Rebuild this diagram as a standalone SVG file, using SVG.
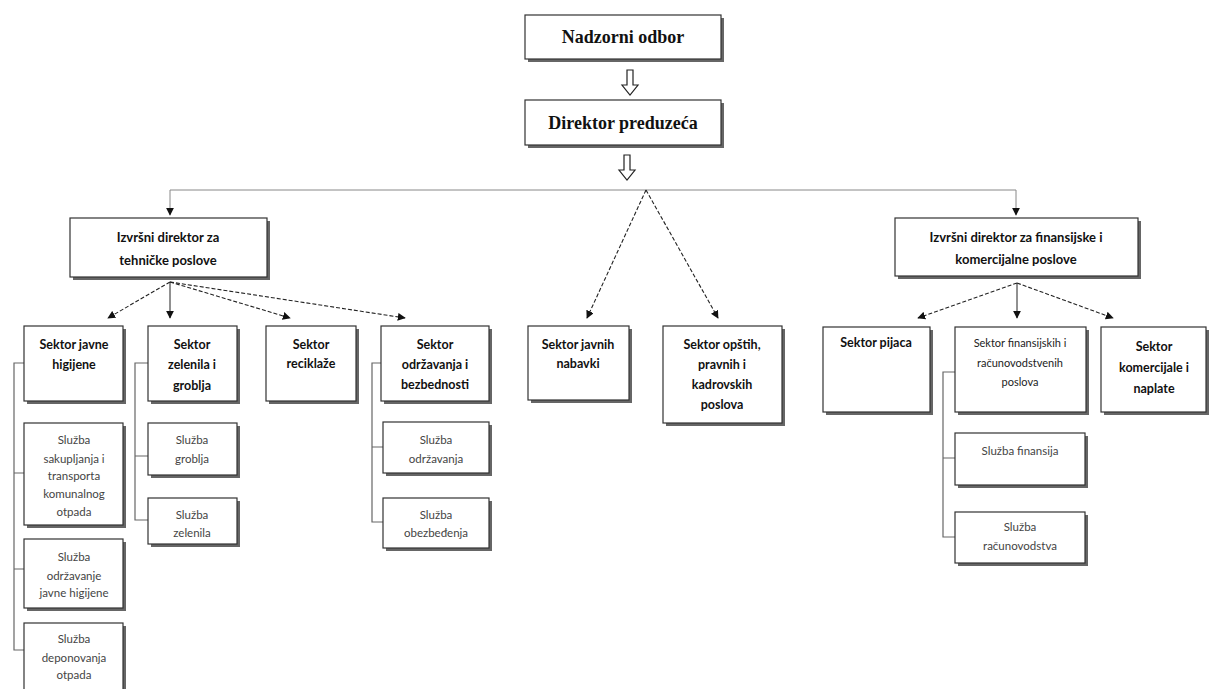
<svg xmlns="http://www.w3.org/2000/svg" width="1213" height="689" viewBox="0 0 1213 689">
<style>
.bx{fill:#fff;stroke:#333;stroke-width:1.2}
.sh{fill:#666}
.tt{font-family:"Liberation Serif",serif;font-weight:bold;font-size:18px;fill:#111;text-anchor:middle}
.hd{font-family:Lato,"Open Sans",sans-serif;font-weight:bold;font-size:13px;fill:#111;text-anchor:middle}
.sk{font-family:Lato,"Open Sans",sans-serif;font-weight:bold;font-size:12.5px;fill:#111;text-anchor:middle}
.sm{font-family:Lato,"Open Sans",sans-serif;font-size:11px;fill:#222;text-anchor:middle}
.sv{font-family:Lato,"Open Sans",sans-serif;font-size:11.5px;fill:#444;text-anchor:middle}
.ln{fill:none;stroke:#222;stroke-width:1}
.ds{fill:none;stroke:#222;stroke-width:1.1;stroke-dasharray:4 2}
.gr{fill:none;stroke:#888;stroke-width:1}
.br{fill:none;stroke:#666;stroke-width:1.2}
.ha{fill:#fff;stroke:#222;stroke-width:1.2}
</style>
<defs>
<marker id="ah" viewBox="0 0 10 10" refX="9" refY="5" markerWidth="8" markerHeight="8" markerUnits="userSpaceOnUse" orient="auto">
<path d="M0,0 L10,5 L0,10 Z" fill="#111"/>
</marker>
</defs>
<rect width="1213" height="689" fill="#fff"/>

<g id="connectors">
<path class="ha" d="M627,70 H633 V85 H638 L630,95 L622,85 H627 Z"/>
<path class="ha" d="M624,155 H630 V170 H635 L627,180 L619,170 H624 Z"/>
<path class="gr" d="M646,190 H170 V215" marker-end="url(#ah)"/>
<path class="gr" d="M646,190 H1016 V215" marker-end="url(#ah)"/>
<path class="ds" d="M646,190 L587,318" marker-end="url(#ah)"/>
<path class="ds" d="M646,190 L718,318" marker-end="url(#ah)"/>
<path class="ds" d="M170,282 L108,318" marker-end="url(#ah)"/>
<path class="ln" d="M170,282 L170,318" marker-end="url(#ah)"/>
<path class="ds" d="M170,282 L290,318" marker-end="url(#ah)"/>
<path class="ds" d="M170,282 L405,318" marker-end="url(#ah)"/>
<path class="ds" d="M1017,283 L918,318" marker-end="url(#ah)"/>
<path class="ln" d="M1017,283 L1017,318" marker-end="url(#ah)"/>
<path class="ds" d="M1017,283 L1113,318" marker-end="url(#ah)"/>
<path class="br" d="M24,363 H14 V650 H24 M14,473 H24 M14,569 H24"/>
<path class="br" d="M148,363 H135 V520 H148 M135,456 H148"/>
<path class="br" d="M383,363 H372 V522 H383 M372,447 H383"/>
<path class="br" d="M955,372 H943 V537 H955 M943,458 H955"/>
</g>

<g id="nadzorni-odbor">
<rect class="sh" x="528" y="18" width="196" height="44"/>
<rect class="bx" x="525" y="15" width="196" height="44"/>
<text class="tt" x="623" y="43">Nadzorni odbor</text>
</g>
<g id="direktor-preduzeca">
<rect class="sh" x="528" y="103" width="196" height="45"/>
<rect class="bx" x="525" y="100" width="196" height="45"/>
<text class="tt" x="623" y="129">Direktor preduzeća</text>
</g>
<g id="izvrsni-tehnicki">
<rect class="sh" x="73" y="221" width="197" height="59"/>
<rect class="bx" x="70" y="218" width="197" height="59"/>
<text class="hd" x="168" y="242">Izvršni direktor za</text>
<text class="hd" x="168" y="265">tehničke poslove</text>
</g>
<g id="izvrsni-finansijski">
<rect class="sh" x="898" y="221" width="243" height="58"/>
<rect class="bx" x="895" y="218" width="243" height="58"/>
<text class="hd" x="1016" y="242">Izvršni direktor za finansijske i</text>
<text class="hd" x="1016" y="264">komercijalne poslove</text>
</g>

<g id="sektor-javne-higijene">
<rect class="sh" x="27" y="329" width="99" height="75"/>
<rect class="bx" x="24" y="326" width="99" height="75"/>
<text class="sk" x="74" y="349">Sektor javne</text>
<text class="sk" x="74" y="369">higijene</text>
</g>
<g id="sektor-zelenila">
<rect class="sh" x="151" y="329" width="89" height="75"/>
<rect class="bx" x="148" y="326" width="89" height="75"/>
<text class="sk" x="192" y="349">Sektor</text>
<text class="sk" x="192" y="369">zelenila i</text>
<text class="sk" x="192" y="390">groblja</text>
</g>
<g id="sektor-reciklaze">
<rect class="sh" x="269" y="329" width="90" height="75"/>
<rect class="bx" x="266" y="326" width="90" height="75"/>
<text class="sk" x="311" y="349">Sektor</text>
<text class="sk" x="311" y="368">reciklaže</text>
</g>
<g id="sektor-odrzavanja">
<rect class="sh" x="384" y="329" width="108" height="75"/>
<rect class="bx" x="381" y="326" width="108" height="75"/>
<text class="sk" x="435" y="349">Sektor</text>
<text class="sk" x="435" y="369">održavanja i</text>
<text class="sk" x="435" y="389">bezbednosti</text>
</g>
<g id="sektor-javnih-nabavki">
<rect class="sh" x="531" y="329" width="101" height="74"/>
<rect class="bx" x="528" y="326" width="101" height="74"/>
<text class="sk" x="578" y="349">Sektor javnih</text>
<text class="sk" x="578" y="368">nabavki</text>
</g>
<g id="sektor-opstih">
<rect class="sh" x="666" y="329" width="119" height="97"/>
<rect class="bx" x="663" y="326" width="119" height="97"/>
<text class="sk" x="722" y="349">Sektor opštih,</text>
<text class="sk" x="722" y="369">pravnih i</text>
<text class="sk" x="722" y="389">kadrovskih</text>
<text class="sk" x="722" y="409">poslova</text>
</g>
<g id="sektor-pijaca">
<rect class="sh" x="826" y="330" width="107" height="85"/>
<rect class="bx" x="823" y="327" width="107" height="85"/>
<text class="sk" x="876" y="347">Sektor pijaca</text>
</g>
<g id="sektor-finansijskih">
<rect class="sh" x="958" y="330" width="131" height="85"/>
<rect class="bx" x="955" y="327" width="131" height="85"/>
<text class="sm" x="1020" y="347">Sektor finansijskih i</text>
<text class="sm" x="1020" y="367">računovodstvenih</text>
<text class="sm" x="1020" y="386">poslova</text>
</g>
<g id="sektor-komercijale">
<rect class="sh" x="1104" y="330" width="105" height="85"/>
<rect class="bx" x="1101" y="327" width="105" height="85"/>
<text class="sk" x="1154" y="351">Sektor</text>
<text class="sk" x="1154" y="372">komercijale i</text>
<text class="sk" x="1154" y="393">naplate</text>
</g>

<g id="sluzba-sakupljanja">
<rect class="sh" x="27" y="426" width="99" height="102"/>
<rect class="bx" x="24" y="423" width="99" height="102"/>
<text class="sv" x="74" y="444">Služba</text>
<text class="sv" x="74" y="463">sakupljanja i</text>
<text class="sv" x="74" y="480">transporta</text>
<text class="sv" x="74" y="498">komunalnog</text>
<text class="sv" x="74" y="516">otpada</text>
</g>
<g id="sluzba-odrzavanje-higijene">
<rect class="sh" x="27" y="542" width="99" height="69"/>
<rect class="bx" x="24" y="539" width="99" height="69"/>
<text class="sv" x="74" y="561">Služba</text>
<text class="sv" x="74" y="580">održavanje</text>
<text class="sv" x="74" y="597">javne higijene</text>
</g>
<g id="sluzba-deponovanja">
<rect class="sh" x="27" y="626" width="99" height="70"/>
<rect class="bx" x="24" y="623" width="99" height="70"/>
<text class="sv" x="74" y="643">Služba</text>
<text class="sv" x="74" y="662">deponovanja</text>
<text class="sv" x="74" y="679">otpada</text>
</g>
<g id="sluzba-groblja">
<rect class="sh" x="151" y="426" width="89" height="52"/>
<rect class="bx" x="148" y="423" width="89" height="52"/>
<text class="sv" x="192" y="444">Služba</text>
<text class="sv" x="192" y="463">groblja</text>
</g>
<g id="sluzba-zelenila">
<rect class="sh" x="151" y="501" width="89" height="46"/>
<rect class="bx" x="148" y="498" width="89" height="46"/>
<text class="sv" x="192" y="519">Služba</text>
<text class="sv" x="192" y="537">zelenila</text>
</g>
<g id="sluzba-odrzavanja">
<rect class="sh" x="386" y="425" width="106" height="51"/>
<rect class="bx" x="383" y="422" width="106" height="51"/>
<text class="sv" x="436" y="444">Služba</text>
<text class="sv" x="436" y="463">održavanja</text>
</g>
<g id="sluzba-obezbedjenja">
<rect class="sh" x="386" y="501" width="106" height="50"/>
<rect class="bx" x="383" y="498" width="106" height="50"/>
<text class="sv" x="436" y="519">Služba</text>
<text class="sv" x="436" y="537">obezbeđenja</text>
</g>
<g id="sluzba-finansija">
<rect class="sh" x="958" y="436" width="130" height="52"/>
<rect class="bx" x="955" y="433" width="130" height="52"/>
<text class="sv" x="1020" y="455">Služba finansija</text>
</g>
<g id="sluzba-racunovodstva">
<rect class="sh" x="958" y="515" width="130" height="51"/>
<rect class="bx" x="955" y="512" width="130" height="51"/>
<text class="sv" x="1020" y="531">Služba</text>
<text class="sv" x="1020" y="550">računovodstva</text>
</g>
</svg>
